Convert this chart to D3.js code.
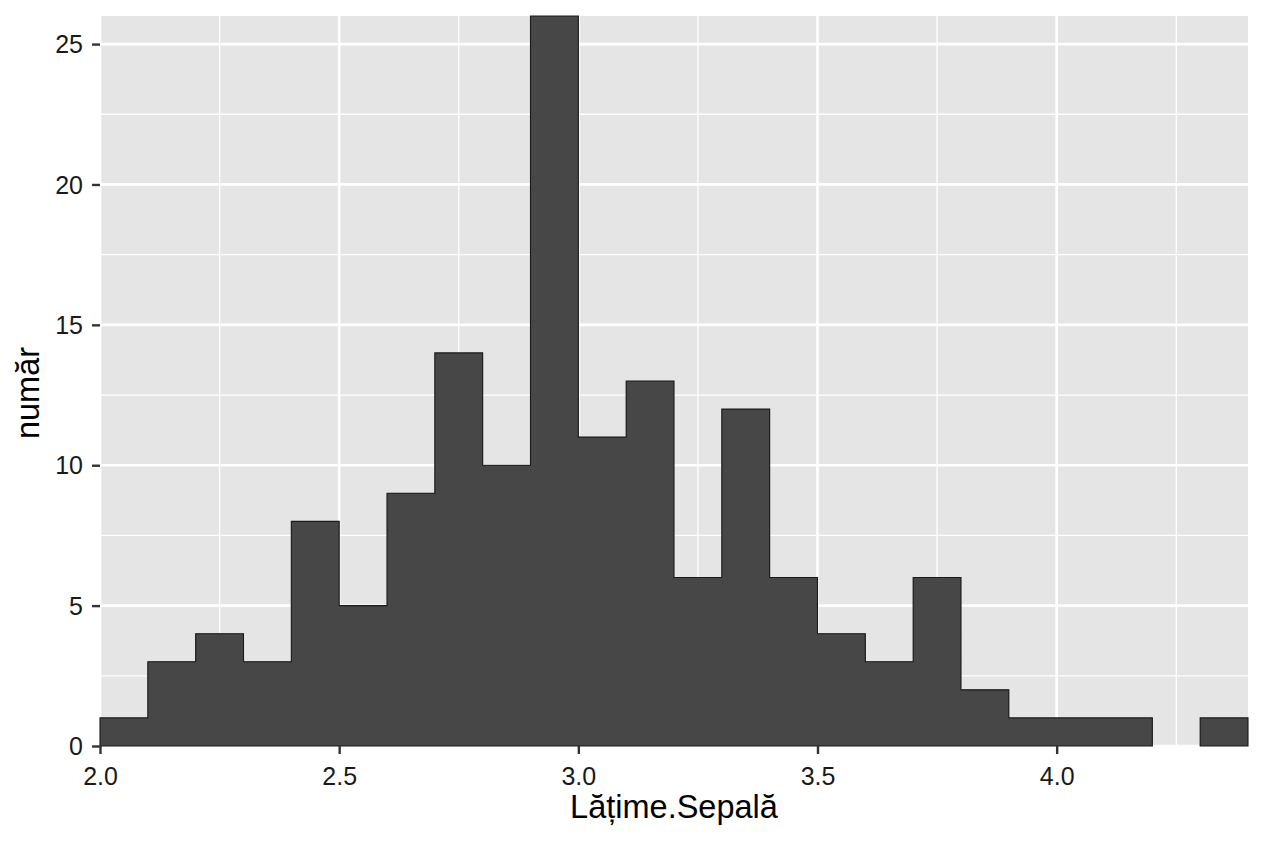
<!DOCTYPE html>
<html><head><meta charset="utf-8">
<script src="https://cdn.jsdelivr.net/npm/d3@7"></script>
<style>html,body{margin:0;padding:0;background:#fff;}svg{display:block;font-family:"Liberation Sans",Arial,sans-serif;}</style>
</head><body>
<svg id="chart" width="1264" height="843"></svg>
<script>
// Histogram bins (left edges) and counts
const binStarts = [2.0,2.1,2.2,2.3,2.4,2.5,2.6,2.7,2.8,2.9,3.0,3.1,3.2,3.3,3.4,3.5,3.6,3.7,3.8,3.9,4.0,4.1,4.2,4.3];
const counts    = [1,3,4,3,8,5,9,14,10,26,11,13,6,12,6,4,3,6,2,1,1,1,0,1];
const binWidth = 0.1;
const xTicks = [2.0,2.5,3.0,3.5,4.0];
const xMinor = [2.25,2.75,3.25,3.75,4.25];
const yTicks = [0,5,10,15,20,25];
const yMinor = [2.5,7.5,12.5,17.5,22.5];
const xTitle = "Lățime.Sepală";
const yTitle = "număr";

const svg = d3.select("#chart");
const L = 100, R = 1248, T = 16, B = 746;
const x = d3.scaleLinear().domain([2.0, 4.4]).range([L, R]);
const y = d3.scaleLinear().domain([0, 26]).range([B, T]);

svg.append("rect").attr("x", L).attr("y", T).attr("width", R - L).attr("height", B - T).attr("fill", "#e5e5e5");

const grid = svg.append("g");
grid.selectAll(".ymin").data(yMinor).join("line")
  .attr("x1", L).attr("x2", R).attr("y1", d => y(d)).attr("y2", d => y(d))
  .attr("stroke", "#fff").attr("stroke-width", 1.3);
grid.selectAll(".xmin").data(xMinor).join("line")
  .attr("y1", T).attr("y2", B).attr("x1", d => x(d)).attr("x2", d => x(d))
  .attr("stroke", "#fff").attr("stroke-width", 1.3);
grid.selectAll(".ymaj").data(yTicks).join("line")
  .attr("x1", L).attr("x2", R).attr("y1", d => y(d)).attr("y2", d => y(d))
  .attr("stroke", "#fff").attr("stroke-width", 2.7);
grid.selectAll(".xmaj").data(xTicks).join("line")
  .attr("y1", T).attr("y2", B).attr("x1", d => x(d)).attr("x2", d => x(d))
  .attr("stroke", "#fff").attr("stroke-width", 2.7);

const bins = binStarts.map((s, i) => ({x0: s, x1: s + binWidth, n: counts[i]}));
svg.append("g").selectAll("rect").data(bins.filter(d => d.n > 0)).join("rect")
  .attr("x", d => x(d.x0)).attr("width", d => x(d.x1) - x(d.x0))
  .attr("y", d => y(d.n)).attr("height", d => y(0) - y(d.n))
  .attr("fill", "#474747");

// outline (and seamless fill) of each contiguous run of non-empty bins
const groups = [];
let cur = null;
bins.forEach(b => {
  if (b.n > 0) { if (!cur) { cur = []; groups.push(cur); } cur.push(b); }
  else cur = null;
});
svg.append("g").selectAll("path").data(groups).join("path")
  .attr("d", g => {
    const p = d3.path();
    p.moveTo(x(g[0].x0), y(0));
    g.forEach(b => { p.lineTo(x(b.x0), y(b.n)); p.lineTo(x(b.x1), y(b.n)); });
    p.lineTo(x(g[g.length - 1].x1), y(0));
    p.closePath();
    return p.toString();
  })
  .attr("fill", "#474747").attr("stroke", "#1a1a1a").attr("stroke-width", 1.1);

const xAxis = svg.append("g").attr("transform", `translate(0,${B})`)
  .call(d3.axisBottom(x).tickValues(xTicks).tickFormat(d3.format(".1f")).tickSize(8).tickPadding(8));
const yAxis = svg.append("g").attr("transform", `translate(${L},0)`)
  .call(d3.axisLeft(y).tickValues(yTicks).tickFormat(d3.format("d")).tickSize(8).tickPadding(9));
[xAxis, yAxis].forEach(a => {
  a.select(".domain").remove();
  a.selectAll(".tick line").attr("stroke", "#333").attr("stroke-width", 2.4);
  a.selectAll(".tick text").attr("fill", "#1a1a1a").attr("font-size", 25);
});
xAxis.selectAll(".tick text").attr("dy", "0.93em");
yAxis.selectAll(".tick text").attr("dy", "0.35em");

svg.append("text").attr("x", (L + R) / 2).attr("y", 818).attr("text-anchor", "middle")
  .attr("font-size", 32.5).attr("fill", "#000").text(xTitle);
svg.append("text").attr("transform", `translate(39,393) rotate(-90)`).attr("text-anchor", "middle")
  .attr("font-size", 32.5).attr("fill", "#000").text(yTitle);
</script>
</body></html>
